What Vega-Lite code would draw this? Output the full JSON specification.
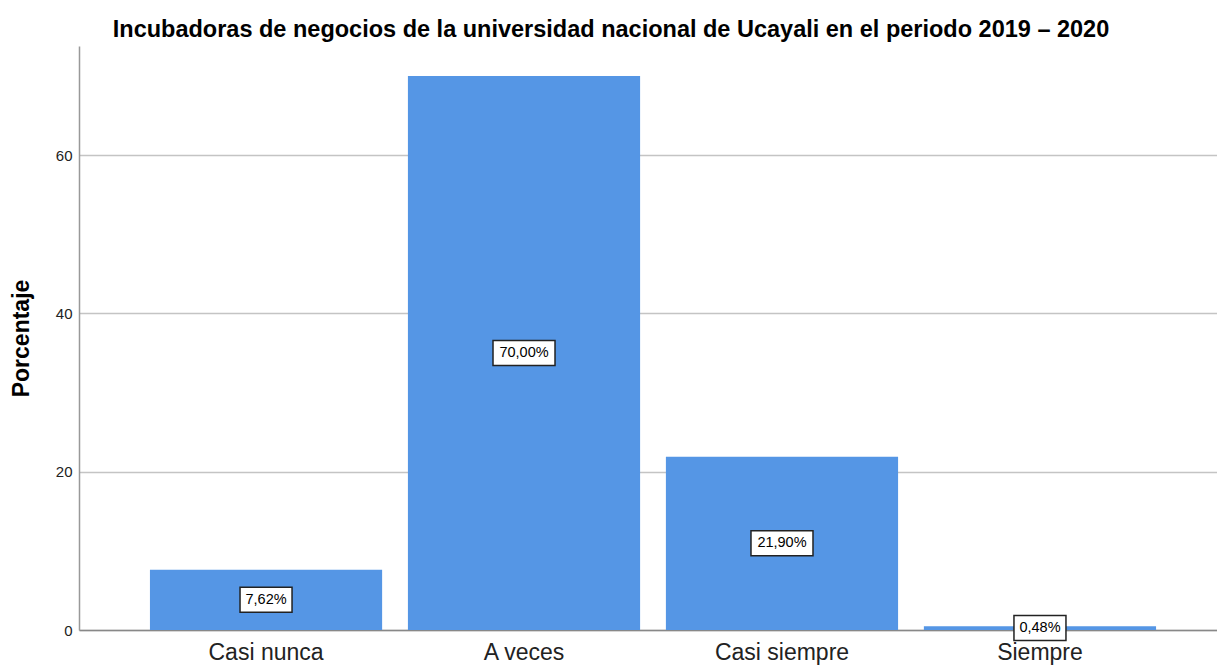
{
  "$schema": "https://vega.github.io/schema/vega-lite/v6.json",
  "autosize": "none",
  "padding": {"left": 79, "top": 46, "right": 0, "bottom": 36},
  "width": 1148,
  "height": 584,
  "background": "white",
  "title": {
    "text": "Incubadoras de negocios de la universidad nacional de Ucayali en el periodo 2019 – 2020",
    "font": "Liberation Sans",
    "fontSize": 23.5,
    "fontWeight": "bold",
    "color": "#000000",
    "anchor": "middle",
    "dx": -42,
    "offset": 5
  },
  "data": {
    "values": [
      {"categoria": "Casi nunca", "porcentaje": 7.62, "etiqueta": "7,62%"},
      {"categoria": "A veces", "porcentaje": 70.0, "etiqueta": "70,00%"},
      {"categoria": "Casi siempre", "porcentaje": 21.9, "etiqueta": "21,90%"},
      {"categoria": "Siempre", "porcentaje": 0.48, "etiqueta": "0,48%"}
    ]
  },
  "transform": [{"calculate": "datum.porcentaje / 2", "as": "mitad"}],
  "config": {
    "view": {"stroke": null},
    "axis": {"labelFont": "Liberation Sans", "titleFont": "Liberation Sans"}
  },
  "encoding": {
    "x": {
      "field": "categoria",
      "type": "nominal",
      "sort": null,
      "scale": {"paddingInner": 0.1, "paddingOuter": 0.275},
      "axis": {
        "title": null,
        "labelAngle": 0,
        "labelFontSize": 23,
        "labelColor": "#222222",
        "labelPadding": 11,
        "ticks": false,
        "domainColor": "#888888",
        "domainWidth": 1.5
      }
    }
  },
  "layer": [
    {
      "mark": {"type": "bar", "color": "#5596e5"},
      "encoding": {
        "y": {
          "field": "porcentaje",
          "type": "quantitative",
          "scale": {"domain": [0, 73.8], "nice": false},
          "axis": {
            "title": "Porcentaje",
            "titleFontSize": 23,
            "titleFontWeight": "bold",
            "titleColor": "#000000",
            "titlePadding": 22,
            "values": [0, 20, 40, 60],
            "labelFontSize": 15,
            "labelColor": "#222222",
            "labelPadding": 7,
            "ticks": false,
            "grid": true,
            "gridColor": "#c4c4c4",
            "gridWidth": 1.5,
            "domainColor": "#999999",
            "domainWidth": 1.5
          }
        }
      }
    },
    {
      "mark": {"type": "point", "filled": true, "fill": "white", "stroke": "#222222", "strokeWidth": 1.5, "opacity": 1, "size": 400},
      "encoding": {
        "y": {"field": "mitad", "type": "quantitative"},
        "shape": {
          "condition": {"test": "length(datum.etiqueta) > 5", "value": "M-3.1,-1.25H3.1V1.25H-3.1Z"},
          "value": "M-2.6,-1.25H2.6V1.25H-2.6Z"
        }
      }
    },
    {
      "mark": {"type": "text", "font": "Liberation Sans", "fontSize": 14.5, "color": "#000000", "baseline": "middle"},
      "encoding": {
        "y": {"field": "mitad", "type": "quantitative"},
        "text": {"field": "etiqueta"}
      }
    }
  ]
}
